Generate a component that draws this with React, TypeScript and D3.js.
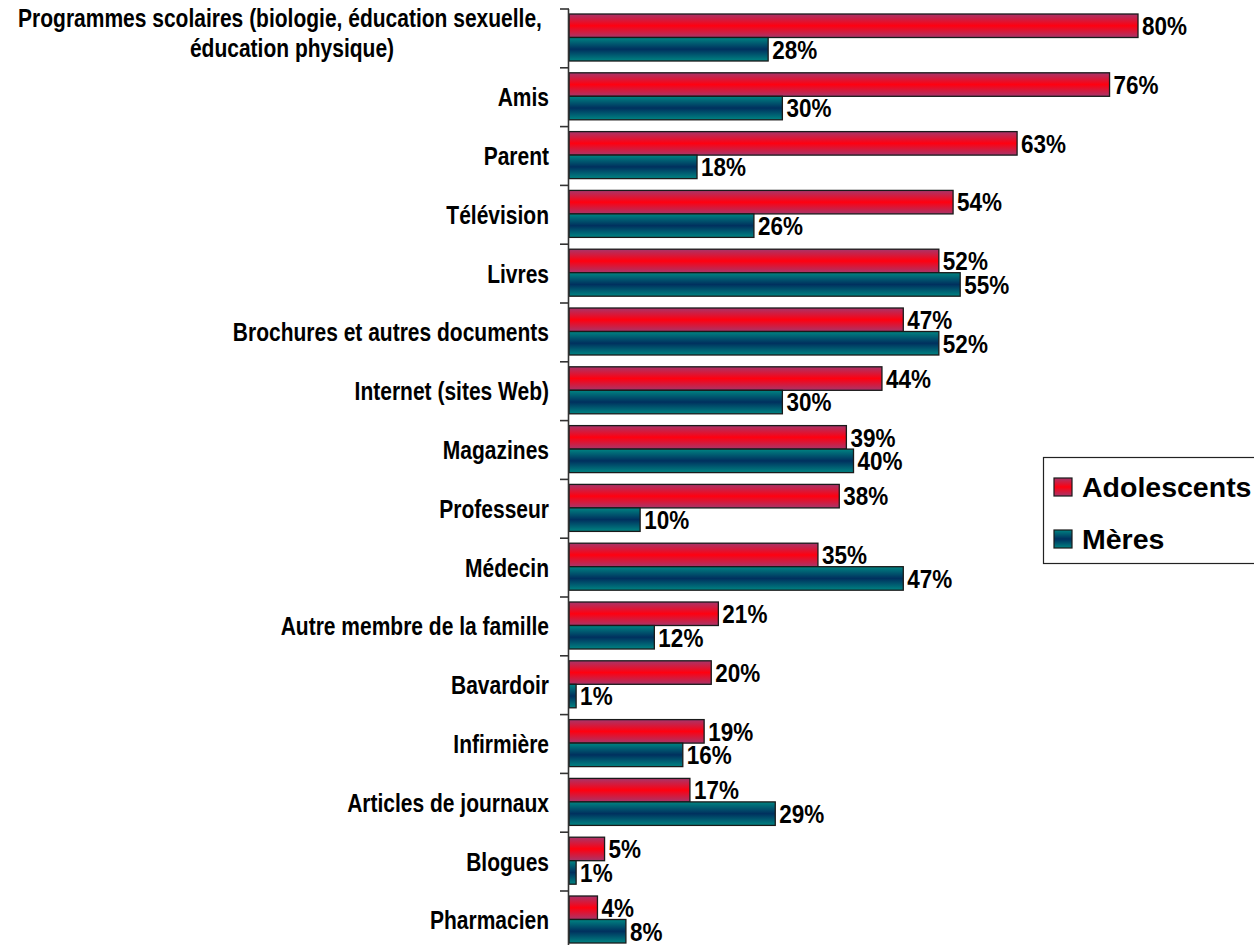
import React from "react";
import * as d3 from "d3";

const categories = [
  ["Programmes scolaires (biologie, éducation sexuelle,", "éducation physique)"],
  ["Amis"],
  ["Parent"],
  ["Télévision"],
  ["Livres"],
  ["Brochures et autres documents"],
  ["Internet (sites Web)"],
  ["Magazines"],
  ["Professeur"],
  ["Médecin"],
  ["Autre membre de la famille"],
  ["Bavardoir"],
  ["Infirmière"],
  ["Articles de journaux"],
  ["Blogues"],
  ["Pharmacien"],
];
const adolescents = [80, 76, 63, 54, 52, 47, 44, 39, 38, 35, 21, 20, 19, 17, 5, 4];
const meres = [28, 30, 18, 26, 55, 52, 30, 40, 10, 47, 12, 1, 16, 29, 1, 8];
const seriesNames = ["Adolescents", "Mères"];

const W = 1254;
const H = 945;
const axisX = 569;
const font = "'Liberation Sans', Arial, sans-serif";

function VText(props: {
  x: number;
  y: number;
  size: number;
  sy: number;
  anchor?: string;
  children: React.ReactNode;
}) {
  const { x, y, size, sy, anchor, children } = props;
  return (
    <text
      transform={`translate(${x},${y}) scale(1,${sy})`}
      x={0}
      y={0}
      textAnchor={anchor || "start"}
      fontFamily={font}
      fontWeight="bold"
      fontSize={size}
      fill="#000"
    >
      {children}
    </text>
  );
}

export default function App() {
  const x = d3.scaleLinear().domain([0, 80]).range([axisX, 1138]);
  const idx = categories.map((_, i) => String(i));
  const y = d3.scaleBand().domain(idx).range([9, 9 + 16 * 58.8]).paddingInner(0).paddingOuter(0);
  const bw = y.bandwidth();
  const inner = d3.scaleBand().domain(["a", "m"]).range([5, bw - 6.8]).padding(0);
  const bh = inner.bandwidth();
  const series = [
    { key: "a", values: adolescents, fill: "url(#gRed)" },
    { key: "m", values: meres, fill: "url(#gTeal)" },
  ];
  const ticks = d3.range(17).map((i) => 9 + i * 58.8);
  const catSize = 21;
  const catSy = 1.2;
  const valSize = 22.5;
  const valSy = 1.15;

  return (
    <svg width={W} height={H} style={{ display: "block", position: "absolute", left: 0, top: 0 }}>
      <defs>
        <linearGradient id="gRed" x1="0" y1="0" x2="0" y2="1">
          <stop offset="0%" stopColor="#a8356a" />
          <stop offset="50%" stopColor="#ff0010" />
          <stop offset="100%" stopColor="#a8356a" />
        </linearGradient>
        <linearGradient id="gTeal" x1="0" y1="0" x2="0" y2="1">
          <stop offset="0%" stopColor="#008482" />
          <stop offset="50%" stopColor="#00305e" />
          <stop offset="100%" stopColor="#008482" />
        </linearGradient>
      </defs>
      <rect x={0} y={0} width={W} height={H} fill="#fff" />
      {categories.map((lines, i) => {
        const y0 = y(String(i))!;
        const cy = y0 + bw / 2;
        return (
          <g key={i}>
            {series.map((s) => {
              const v = s.values[i];
              const by = y0 + inner(s.key)!;
              return (
                <g key={s.key}>
                  <rect
                    x={x(0)}
                    y={by}
                    width={x(v) - x(0)}
                    height={bh}
                    fill={s.fill}
                    stroke="#1a1a1a"
                    strokeWidth={1.3}
                  />
                  <VText x={x(v) + 4} y={by + bh / 2 + valSize * 0.36 * valSy} size={valSize} sy={valSy}>
                    {v}%
                  </VText>
                </g>
              );
            })}
            {lines.length === 1 ? (
              <VText x={549} y={cy + catSize * 0.36 * catSy} size={catSize} sy={catSy} anchor="end">
                {lines[0]}
              </VText>
            ) : (
              <g>
                <VText x={280} y={cy - 11} size={catSize} sy={catSy} anchor="middle">
                  {lines[0]}
                </VText>
                <VText x={292} y={cy + 19} size={catSize} sy={catSy} anchor="middle">
                  {lines[1]}
                </VText>
              </g>
            )}
          </g>
        );
      })}
      <line x1={axisX - 0.5} x2={axisX - 0.5} y1={9} y2={H} stroke="#333" strokeWidth={1.6} />
      {ticks.map((t, i) => (
        <line key={i} x1={560} x2={axisX} y1={t} y2={t} stroke="#333" strokeWidth={1.6} />
      ))}
      <g>
        <rect x={1043.5} y={457.5} width={230} height={106} fill="#fff" stroke="#222" strokeWidth={1.2} />
        {seriesNames.map((n, i) => (
          <g key={n}>
            <rect
              x={1054}
              y={478 + i * 52}
              width={18}
              height={18}
              fill={i === 0 ? "url(#gRed)" : "url(#gTeal)"}
              stroke="#1a1a1a"
              strokeWidth={1.2}
            />
            <VText x={1082} y={497 + i * 52} size={28.5} sy={1}>
              {n}
            </VText>
          </g>
        ))}
      </g>
    </svg>
  );
}
